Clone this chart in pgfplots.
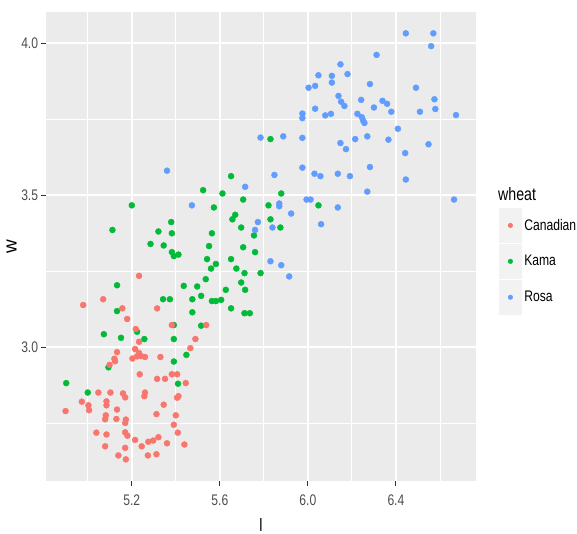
\documentclass[border=0pt]{standalone}
\usepackage{fontspec}
\usepackage{pgfplots}
\usepackage{pgfplotstable}
\pgfplotsset{compat=1.18}
\newfontfamily\ggc{Liberation Sans}[FakeStretch=0.79]
\newfontfamily\ggn{Liberation Sans}
\definecolor{ggred}{HTML}{F8766D}
\definecolor{gggreen}{HTML}{00BA38}
\definecolor{ggblue}{HTML}{619CFF}
\definecolor{ggbg}{HTML}{EBEBEB}
\definecolor{ggkey}{HTML}{F2F2F2}
\definecolor{tickgray}{HTML}{4D4D4D}
\definecolor{tickmark}{HTML}{333333}

\pgfplotstableread{
l w
5.124 2.953
5.236 2.910
5.315 2.895
5.351 2.895
5.382 2.910
5.406 2.910
5.445 2.881
4.973 2.820
5.048 2.850
5.103 2.850
5.160 2.847
5.170 2.834
5.260 2.850
5.257 2.838
5.412 2.838
5.406 2.833
4.899 2.789
5.003 2.808
5.006 2.792
5.085 2.821
5.085 2.808
5.133 2.794
5.345 2.810
5.312 2.779
5.082 2.775
5.079 2.762
5.130 2.763
5.173 2.761
5.170 2.750
5.400 2.775
5.391 2.744
5.409 2.718
5.039 2.718
5.085 2.712
5.170 2.719
5.180 2.708
5.215 2.694
5.245 2.673
5.275 2.688
5.297 2.692
5.321 2.703
5.360 2.683
5.439 2.679
5.079 2.673
5.170 2.668
5.139 2.643
5.173 2.630
5.273 2.643
5.312 2.647
5.099 2.941
5.233 3.234
5.070 3.157
4.979 3.138
5.157 3.127
5.179 3.092
5.315 3.127
5.382 3.072
5.218 3.059
5.233 3.017
5.466 2.996
5.133 2.983
5.121 2.961
5.215 2.993
5.233 2.980
5.224 2.969
5.203 2.962
5.242 2.970
5.260 2.967
5.330 2.967
5.489 3.026
5.538 3.072
}\canadian

\pgfplotstableread{
l w
4.902 2.881
5.000 2.850
5.094 2.933
5.391 2.952
5.410 2.879
5.382 3.312
5.391 3.299
5.412 3.304
5.133 3.203
5.436 3.201
5.342 3.157
5.373 3.157
5.475 3.157
5.133 3.118
5.475 3.114
5.391 3.072
5.224 3.050
5.073 3.042
5.151 3.030
5.257 3.026
5.391 3.026
5.448 2.974
5.200 3.466
5.112 3.385
5.379 3.411
5.321 3.380
5.382 3.374
5.285 3.339
5.345 3.334
5.651 3.562
5.524 3.516
5.612 3.505
5.706 3.485
5.879 3.505
6.048 3.466
5.573 3.459
5.821 3.466
5.670 3.435
5.657 3.420
5.830 3.420
5.875 3.393
5.697 3.393
5.755 3.367
5.564 3.374
5.551 3.332
5.706 3.328
5.760 3.312
5.542 3.289
5.582 3.273
5.560 3.258
5.651 3.289
5.675 3.258
5.712 3.243
5.785 3.243
5.536 3.223
5.697 3.212
5.715 3.188
5.497 3.199
5.515 3.168
5.627 3.188
5.564 3.151
5.582 3.151
5.606 3.155
5.651 3.127
5.712 3.111
5.736 3.111
5.515 3.070
5.830 3.684
}\kama

\pgfplotstableread{
l w
5.360 3.580
5.473 3.466
5.715 3.527
5.848 3.566
5.975 3.590
6.030 3.570
6.057 3.562
6.136 3.570
5.994 3.485
6.012 3.485
6.136 3.459
5.870 3.472
5.870 3.463
5.924 3.439
5.773 3.411
5.839 3.393
5.760 3.385
6.060 3.404
5.830 3.282
5.879 3.269
5.915 3.232
5.785 3.689
5.888 3.693
6.445 4.032
6.570 4.032
6.560 3.990
6.312 3.961
6.148 3.930
6.180 3.898
6.048 3.894
6.109 3.892
6.109 3.870
6.003 3.853
6.033 3.859
6.282 3.865
6.491 3.853
6.139 3.826
6.151 3.807
6.166 3.793
6.242 3.813
6.339 3.810
6.360 3.800
6.379 3.774
6.300 3.788
6.575 3.815
6.579 3.783
6.509 3.774
6.673 3.763
6.033 3.784
5.975 3.768
5.975 3.753
6.079 3.762
6.105 3.767
6.225 3.767
6.245 3.756
6.251 3.745
6.257 3.737
6.409 3.718
5.975 3.688
6.215 3.684
6.270 3.693
6.366 3.682
6.148 3.671
6.173 3.651
6.548 3.667
6.442 3.638
6.191 3.562
6.282 3.592
6.445 3.551
6.270 3.511
6.664 3.485
}\rosa

\begin{document}
\begin{tikzpicture}
\path[use as bounding box] (0,0) rectangle (577bp,534bp);
\begin{axis}[
  at={(46bp,53.3bp)}, anchor=south west,
  scale only axis, width=430bp, height=469bp,
  xmin=4.8102, xmax=6.7638, ymin=2.5599, ymax=4.1032,
  clip=false,
  axis background/.style={fill=ggbg},
  axis line style={draw=none},
  xtick={5.2,5.6,6.0,6.4}, xticklabels={5.2,5.6,6.0,6.4},
  ytick={3.0,3.5,4.0}, yticklabels={3.0,3.5,4.0},
  minor xtick={5.0,5.4,5.8,6.2,6.6},
  minor ytick={2.75,3.25,3.75},
  xtick pos=bottom, ytick pos=left,
  grid=both,
  major grid style={white, line width=1.7bp},
  minor grid style={white, line width=0.85bp},
  tick align=outside,
  major tick length=5bp, minor tick length=0pt,
  tick style={tickmark, line width=0.9bp},
  xticklabel style={font=\ggc\fontsize{15.4}{16}\selectfont, text=tickgray, inner sep=0pt, anchor=north, yshift=-9.3bp},
  yticklabel style={font=\ggc\fontsize{15.4}{16}\selectfont, text=tickgray, inner sep=0pt, anchor=east, xshift=-2.7bp},
  xlabel={l},
  xlabel style={font=\ggc\fontsize{18}{19}\selectfont, at={(axis description cs:0.5,-0.0800)}, anchor=north, inner sep=0pt},
  ylabel={w},
  ylabel style={font=\ggn\fontsize{19}{20}\selectfont, at={(axis description cs:-0.0681,0.5)}, anchor=south, inner sep=0pt},
  legend style={at={(axis description cs:1.0535,0.5819)}, anchor=north west, draw=none, fill=none, inner sep=0pt, row sep=1bp, column sep=2.7bp, font=\ggc\fontsize{15.4}{16}\selectfont, nodes={inner sep=0pt}, cells={anchor=west}},
  legend image code/.code={
    \fill[ggkey] (-11bp,-17.25bp) rectangle (11bp,17.25bp);
    \fill (0bp,0bp) circle (2.3bp);
  },
]
\addplot[only marks, mark=*, mark size=3bp, color=gggreen, forget plot] table[x=l,y=w]{\kama};
\addplot[only marks, mark=*, mark size=3bp, color=ggblue, forget plot] table[x=l,y=w]{\rosa};
\addplot[only marks, mark=*, mark size=3bp, color=ggred, forget plot] table[x=l,y=w]{\canadian};
\addlegendimage{only marks, mark=*, color=ggred}
\addlegendentry{Canadian}
\addlegendimage{only marks, mark=*, color=gggreen}
\addlegendentry{Kama}
\addlegendimage{only marks, mark=*, color=ggblue}
\addlegendentry{Rosa}
\node[font=\ggc\fontsize{18}{19}\selectfont, anchor=base west, inner sep=0pt] at (axis description cs:1.0512,0.5985) {wheat};
\end{axis}
\end{tikzpicture}
\end{document}
